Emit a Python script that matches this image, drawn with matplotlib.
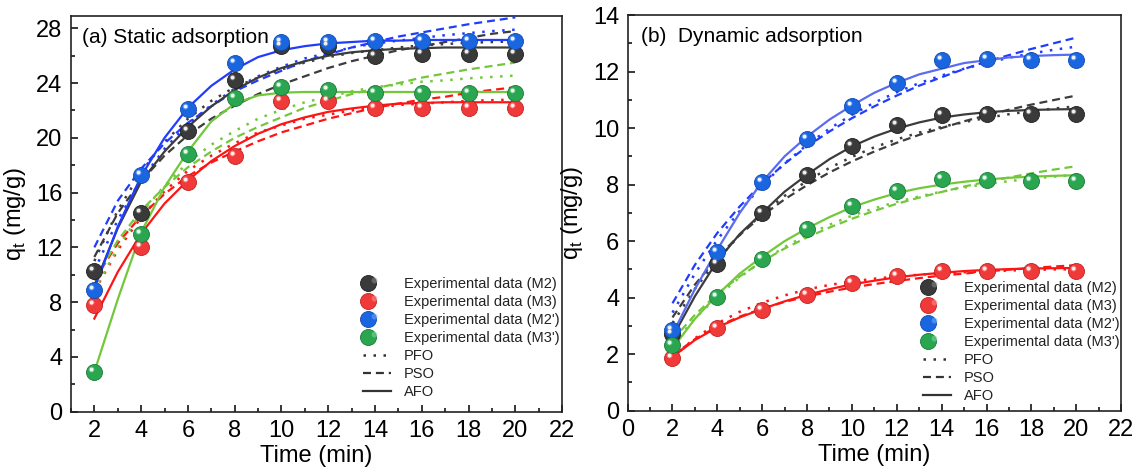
import numpy as np
import matplotlib
matplotlib.use("Agg")
import matplotlib.pyplot as plt
from matplotlib.path import Path
from matplotlib.lines import Line2D
from matplotlib.legend_handler import HandlerTuple
from matplotlib.ticker import MultipleLocator

plt.rcParams['font.family'] = ['Liberation Sans', 'DejaVu Sans']

# ---------------- data ----------------
t_exp = [2, 4, 6, 8, 10, 12, 14, 16, 18, 20]
t_fit = [2, 3, 4, 5, 6, 7, 8, 9, 10, 11, 12, 13, 14, 15, 16, 17, 18, 19, 20]

# (a) Static adsorption - experimental
a_M2 = [10.3, 14.5, 20.5, 24.2, 26.7, 26.7, 26.0, 26.1, 26.1, 26.1]
a_M3 = [7.8, 12.0, 16.8, 18.7, 22.7, 22.7, 22.2, 22.2, 22.2, 22.2]
a_M2p = [8.9, 17.3, 22.1, 25.5, 27.0, 27.0, 27.1, 27.1, 27.1, 27.1]
a_M3p = [2.9, 13.0, 18.8, 22.9, 23.7, 23.5, 23.3, 23.3, 23.3, 23.3]

# (a) fitted curves
a_M2_pfo = [11.0, 14.7, 17.5, 19.7, 21.4, 22.7, 23.7, 24.4, 25.0, 25.5, 25.9, 26.2, 26.4, 26.6, 26.75, 26.85, 26.95, 27.0, 27.05]
a_M2_pso = [11.3, 14.5, 16.85, 18.7, 20.2, 21.4, 22.35, 23.2, 23.9, 24.5, 25.1, 25.6, 26.0, 26.4, 26.7, 27.0, 27.3, 27.6, 27.8]
a_M2_afo = [9.2, 13.4, 16.8, 19.0, 20.8, 22.3, 23.5, 24.4, 25.1, 25.6, 26.0, 26.25, 26.4, 26.5, 26.55, 26.6, 26.6, 26.6, 26.6]

a_M3_pfo = [8.8, 11.8, 14.2, 16.1, 17.6, 18.7, 19.6, 20.4, 20.9, 21.4, 21.7, 22.0, 22.2, 22.4, 22.5, 22.6, 22.7, 22.75, 22.8]
a_M3_pso = [9.6, 12.3, 14.3, 15.9, 17.2, 18.2, 19.0, 19.75, 20.4, 20.9, 21.4, 21.8, 22.2, 22.5, 22.8, 23.0, 23.3, 23.5, 23.7]
a_M3_afo = [6.8, 10.2, 13.0, 15.2, 16.9, 18.3, 19.4, 20.3, 21.0, 21.5, 21.9, 22.15, 22.35, 22.5, 22.55, 22.6, 22.6, 22.6, 22.6]

a_M2p_pfo = [10.3, 14.0, 16.9, 19.2, 21.0, 22.4, 23.6, 24.5, 25.2, 25.8, 26.2, 26.6, 26.9, 27.1, 27.3, 27.5, 27.65, 27.8, 27.9]
a_M2p_pso = [12.0, 15.4, 17.75, 19.6, 21.1, 22.3, 23.4, 24.2, 24.9, 25.6, 26.1, 26.6, 27.0, 27.4, 27.7, 28.0, 28.3, 28.55, 28.8]
a_M2p_afo = [9.0, 13.5, 17.2, 20.0, 22.2, 23.8, 25.0, 25.9, 26.4, 26.7, 26.9, 27.0, 27.1, 27.1, 27.15, 27.15, 27.15, 27.15, 27.15]

a_M3p_pfo = [8.8, 12.0, 14.5, 16.5, 18.2, 19.5, 20.5, 21.4, 22.05, 22.6, 23.0, 23.4, 23.7, 23.9, 24.1, 24.2, 24.35, 24.45, 24.55]
a_M3p_pso = [9.6, 12.5, 14.7, 16.4, 17.85, 19.0, 20.0, 20.8, 21.5, 22.2, 22.7, 23.2, 23.6, 24.0, 24.4, 24.7, 25.0, 25.25, 25.5]
a_M3p_afo = [2.9, 8.2, 13.1, 16.4, 19.0, 21.2, 22.5, 23.1, 23.3, 23.35, 23.35, 23.35, 23.35, 23.35, 23.35, 23.35, 23.35, 23.35, 23.35]

# (b) Dynamic adsorption - experimental
b_M2 = [2.7, 5.2, 7.0, 8.35, 9.35, 10.1, 10.45, 10.5, 10.5, 10.5]
b_M3 = [1.85, 2.92, 3.57, 4.1, 4.52, 4.78, 4.93, 4.93, 4.93, 4.93]
b_M2p = [2.86, 5.62, 8.09, 9.63, 10.78, 11.6, 12.4, 12.44, 12.42, 12.42]
b_M3p = [2.33, 4.04, 5.37, 6.43, 7.24, 7.77, 8.18, 8.16, 8.14, 8.14]

# (b) fitted curves
b_M2_pfo = [3.1, 4.31, 5.34, 6.22, 6.97, 7.6, 8.13, 8.59, 8.98, 9.32, 9.6, 9.84, 10.04, 10.21, 10.36, 10.49, 10.6, 10.69, 10.77]
b_M2_pso = [3.3, 4.46, 5.42, 6.22, 6.9, 7.48, 7.98, 8.43, 8.82, 9.17, 9.48, 9.76, 10.0, 10.24, 10.45, 10.65, 10.83, 10.99, 11.15]
b_M2_afo = [2.6, 4.05, 5.3, 6.25, 7.0, 7.75, 8.35, 8.9, 9.35, 9.7, 9.98, 10.2, 10.37, 10.48, 10.56, 10.61, 10.64, 10.66, 10.67]

b_M3_pfo = [1.9, 2.56, 3.09, 3.5, 3.82, 4.08, 4.29, 4.45, 4.57, 4.67, 4.75, 4.81, 4.86, 4.9, 4.93, 4.96, 4.98, 5.0, 5.0]
b_M3_pso = [1.95, 2.53, 2.98, 3.33, 3.61, 3.85, 4.04, 4.21, 4.36, 4.48, 4.59, 4.69, 4.78, 4.85, 4.93, 4.99, 5.05, 5.1, 5.15]
b_M3_afo = [1.9, 2.5, 2.95, 3.3, 3.6, 3.87, 4.1, 4.3, 4.47, 4.6, 4.72, 4.81, 4.88, 4.94, 4.98, 5.01, 5.03, 5.04, 5.05]

b_M2p_pfo = [3.47, 4.85, 6.05, 7.07, 7.97, 8.75, 9.41, 9.98, 10.47, 10.9, 11.27, 11.59, 11.86, 12.1, 12.3, 12.49, 12.64, 12.77, 12.88]
b_M2p_pso = [3.8, 5.16, 6.29, 7.23, 8.04, 8.74, 9.35, 9.88, 10.35, 10.77, 11.15, 11.5, 11.8, 12.09, 12.35, 12.58, 12.8, 13.0, 13.2]
b_M2p_afo = [2.7, 4.3, 5.7, 7.0, 8.1, 9.0, 9.7, 10.3, 10.8, 11.25, 11.6, 11.9, 12.1, 12.3, 12.4, 12.5, 12.55, 12.58, 12.6]

b_M3p_pfo = [2.34, 3.26, 4.04, 4.72, 5.29, 5.79, 6.22, 6.58, 6.9, 7.16, 7.39, 7.58, 7.75, 7.9, 8.02, 8.12, 8.21, 8.28, 8.35]
b_M3p_pso = [2.5, 3.39, 4.13, 4.75, 5.28, 5.74, 6.13, 6.48, 6.79, 7.07, 7.32, 7.54, 7.74, 7.93, 8.1, 8.25, 8.4, 8.53, 8.65]
b_M3p_afo = [2.2, 3.25, 4.1, 4.85, 5.45, 6.0, 6.45, 6.85, 7.2, 7.47, 7.7, 7.87, 8.0, 8.1, 8.18, 8.24, 8.28, 8.31, 8.33]

labels = ["Experimental data (M2)", "Experimental data (M3)",
          "Experimental data (M2')", "Experimental data (M3')"]
model_labels = ["PFO", "PSO", "AFO"]

# ---------------- styles ----------------
sphere_cols = ['#3a3a3a', '#f03a3a', '#1a66e0', '#2aa650']
sphere_edge = ['#1e1e1e', '#c02020', '#1048b0', '#1a7a38']
glow_cols = ['#8a8a8a', '#ff9090', '#70a8ff', '#80d8a0']
line_cols_a = ['#3c3c3c', '#ff1414', '#1f3cff', '#72c83a']
line_cols_b = ['#3c3c3c', '#ff1414', '#1f3cff', '#72c83a']
solid_cols_b = ['#3c3c3c', '#ff1414', '#5a6cf0', '#72c83a']
DOT = (0, (1.0, 3.0))
DASH = (0, (3.6, 2.2))
LW = 1.6

hl_path = Path.circle(center=(-0.3, 0.3), radius=0.2)
glow_path = Path.circle(center=(-0.25, 0.25), radius=0.25)
MS = 11.5


def spheres(ax, x, y, i):
    base, = ax.plot(x, y, ls='none', marker='o', ms=MS, mfc=sphere_cols[i],
                    mec=sphere_edge[i], mew=0.6, zorder=5)
    glow, = ax.plot(x, y, ls='none', marker=glow_path, ms=8.5, mfc=glow_cols[i],
                    mec='none', alpha=0.55, zorder=6)
    hl, = ax.plot(x, y, ls='none', marker=hl_path, ms=7.0, mfc='white',
                  mec='none', alpha=0.9, zorder=7)
    return (base, glow, hl)


def style_axes(ax, ymaj, ymin):
    ax.xaxis.set_major_locator(MultipleLocator(2))
    ax.xaxis.set_minor_locator(MultipleLocator(1))
    ax.yaxis.set_major_locator(MultipleLocator(ymaj))
    ax.yaxis.set_minor_locator(MultipleLocator(ymin))
    ax.tick_params(which='both', direction='in', top=False, right=False,
                   labelsize=17, width=1.1, pad=6)
    ax.tick_params(which='major', length=5)
    ax.tick_params(which='minor', length=3)
    for s in ax.spines.values():
        s.set_linewidth(1.2)
        s.set_color('#222222')
    ax.set_xlabel('Time (min)', fontsize=17, labelpad=2)
    ax.set_ylabel('q$_\\mathregular{t}$ (mg/g)', fontsize=17, labelpad=6)


fig = plt.figure(figsize=(11.37, 4.75), dpi=100)
axa = fig.add_axes([0.0624, 0.1333, 0.432, 0.833])
axb = fig.add_axes([0.552, 0.1354, 0.434, 0.833])

# ---- panel (a)
exp_a = [a_M2, a_M3, a_M2p, a_M3p]
fits_a = [(a_M2_pfo, a_M2_pso, a_M2_afo), (a_M3_pfo, a_M3_pso, a_M3_afo),
          (a_M2p_pfo, a_M2p_pso, a_M2p_afo), (a_M3p_pfo, a_M3p_pso, a_M3p_afo)]
handles_a = []
for i in range(4):
    pfo, pso, afo = fits_a[i]
    axa.plot(t_fit, pfo, ls=DOT, color=line_cols_a[i], lw=LW + 0.2, zorder=3)
    axa.plot(t_fit, pso, ls=DASH, color=line_cols_a[i], lw=LW, zorder=3)
    axa.plot(t_fit, afo, ls='-', color=line_cols_a[i], lw=LW, zorder=4)
for i in range(4):
    handles_a.append(spheres(axa, t_exp, exp_a[i], i))

axa.set_xlim(1, 22)
axa.set_ylim(0, 28.9)
style_axes(axa, 4, 2)
axa.text(0.022, 0.945, '(a) Static adsorption', transform=axa.transAxes,
         fontsize=15, va='center', ha='left')

# ---- panel (b)
exp_b = [b_M2, b_M3, b_M2p, b_M3p]
fits_b = [(b_M2_pfo, b_M2_pso, b_M2_afo), (b_M3_pfo, b_M3_pso, b_M3_afo),
          (b_M2p_pfo, b_M2p_pso, b_M2p_afo), (b_M3p_pfo, b_M3p_pso, b_M3p_afo)]
handles_b = []
for i in range(4):
    pfo, pso, afo = fits_b[i]
    axb.plot(t_fit, pfo, ls=DOT, color=line_cols_b[i], lw=LW + 0.2, zorder=3)
    axb.plot(t_fit, pso, ls=DASH, color=line_cols_b[i], lw=LW, zorder=3)
    axb.plot(t_fit, afo, ls='-', color=solid_cols_b[i], lw=LW, zorder=4)
for i in range(4):
    handles_b.append(spheres(axb, t_exp, exp_b[i], i))

axb.set_xlim(0, 22)
axb.set_ylim(0, 14)
style_axes(axb, 2, 1)
axb.text(0.028, 0.945, '(b)  Dynamic adsorption', transform=axb.transAxes,
         fontsize=15, va='center', ha='left')

# ---- legends
line_handles = [Line2D([], [], color='#333333', ls=DOT, lw=LW + 0.2),
                Line2D([], [], color='#333333', ls=DASH, lw=LW),
                Line2D([], [], color='#333333', ls='-', lw=LW)]

for ax, hs, anchor in [(axa, handles_a, (363 / 1137, 1 - 277 / 475)),
                       (axb, handles_b, (923 / 1137, 1 - 281 / 475))]:
    leg = fig.legend(list(hs) + line_handles, labels + model_labels,
                     loc='upper left', bbox_to_anchor=anchor,
                     frameon=False, fontsize=10.5, borderpad=0, borderaxespad=0,
                     handlelength=1.9, handletextpad=0.9, labelspacing=0.27,
                     handler_map={tuple: HandlerTuple(ndivide=None)})
    for txt in leg.get_texts():
        txt.set_color('#222222')

fig.savefig('out.png', dpi=100)
